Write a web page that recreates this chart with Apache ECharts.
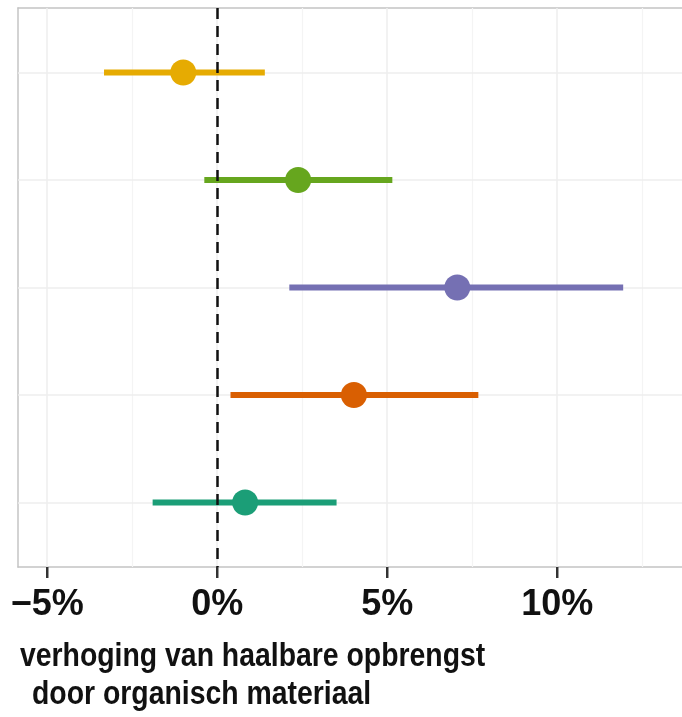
<!DOCTYPE html>
<html>
<head>
<meta charset="utf-8">
<script src="https://cdn.jsdelivr.net/npm/echarts@6/dist/echarts.min.js"></script>
<style>
  html, body { margin: 0; padding: 0; background: #fff; }
  #chart { width: 682px; height: 717px; }
</style>
</head>
<body>
<div id="chart"></div>
<script>
// Rows from top to bottom (row index on the vertical value axis)
const rowIndex = [1, 2, 3, 4, 5];
// Point estimate and interval bounds, in percent
const estimate = [-1.0, 2.38, 7.06, 4.02, 0.82];
const lower    = [-3.33, -0.38, 2.12, 0.39, -1.90];
const upper    = [1.40, 5.15, 11.94, 7.68, 3.51];
const colors   = ['#E6AB02', '#66A61E', '#7570B3', '#D95F02', '#1B9E77'];
// Axis ticks
const majorTicks = [-5, 0, 5, 10];
const minorTicks = [-2.5, 2.5, 7.5, 12.5];
const titleLines = ['verhoging van haalbare opbrengst', 'door organisch materiaal'];

const FONT = '"Liberation Sans", Arial, Helvetica, sans-serif';
const X_MIN = -5.86, X_MAX = 13.67;
const frameLine = { show: true, onZero: false, lineStyle: { color: '#c4c4c4', width: 1.5 } };

const chart = echarts.init(document.getElementById('chart'), null, { renderer: 'canvas' });

const intervalData = rowIndex.map((r, i) => ({
  value: [lower[i], upper[i], r],
  itemStyle: { color: colors[i], opacity: 1 }
}));
const pointData = rowIndex.map((r, i) => ({
  value: [estimate[i], r],
  itemStyle: { color: colors[i], opacity: 1 }
}));

const hiddenParts = {
  axisTick: { show: false },
  axisLabel: { show: false },
  splitLine: { show: false }
};

chart.setOption({
  animation: false,
  // Panel frame on top, left and bottom only; the panel runs to the right edge
  grid: { left: 18, right: 0, top: 8, bottom: 150 },
  xAxis: [
    { type: 'value', position: 'bottom', min: X_MIN, max: X_MAX, axisLine: frameLine, ...hiddenParts },
    { type: 'value', position: 'top', min: X_MIN, max: X_MAX, axisLine: frameLine, ...hiddenParts }
  ],
  yAxis: {
    type: 'value',
    min: 0.4, max: 5.6,
    inverse: true,
    axisLine: frameLine,
    ...hiddenParts
  },
  series: [
    // Grid lines: vertical major/minor and horizontal per row
    {
      type: 'line', data: [], silent: true, z: 1,
      markLine: {
        z: 1,
        silent: true, symbol: 'none', animation: false,
        label: { show: false },
        data: [
          ...minorTicks.map(v => ({ xAxis: v, lineStyle: { color: '#f4f4f4', width: 1.2, type: 'solid' } })),
          ...majorTicks.map(v => ({ xAxis: v, lineStyle: { color: '#eeeeee', width: 1.5, type: 'solid' } })),
          ...rowIndex.map(v => ({ yAxis: v, lineStyle: { color: '#eeeeee', width: 1.5, type: 'solid' } }))
        ]
      }
    },
    // Interval bars
    {
      type: 'custom', z: 10,
      data: intervalData,
      encode: { x: [0, 1], y: 2 },
      renderItem: function (params, api) {
        const a = api.coord([api.value(0), api.value(2)]);
        const b = api.coord([api.value(1), api.value(2)]);
        return {
          type: 'rect',
          shape: { x: a[0], y: a[1] - 3, width: b[0] - a[0], height: 6 },
          style: { fill: colors[params.dataIndex], stroke: null, lineWidth: 0 }
        };
      }
    },
    // Point estimates
    {
      type: 'scatter', z: 11,
      symbol: 'circle', symbolSize: 26,
      data: pointData
    },
    // Reference line at zero
    {
      type: 'line', data: [], silent: true, z: 20,
      markLine: {
        z: 20,
        silent: true, symbol: 'none', animation: false,
        label: { show: false },
        data: [{ xAxis: 0, lineStyle: { color: '#111', width: 2.5, type: [11, 7] } }]
      }
    },
    // Bottom axis ticks and labels
    {
      type: 'scatter', z: 21, silent: true,
      data: majorTicks.map(v => [v, 5.6]),
      symbol: 'rect', symbolSize: [2.5, 11], symbolOffset: [0, 5.5],
      itemStyle: { color: '#333', opacity: 1 },
      label: {
        show: true, position: 'bottom', distance: 9,
        formatter: p => (p.value[0] < 0 ? '\u2212' + Math.abs(p.value[0]) : p.value[0]) + '%',
        fontFamily: FONT, fontWeight: 'bold', fontSize: 36, color: '#111', opacity: 1
      }
    }
  ],
  graphic: [
    {
      type: 'text', left: 20, top: 640, scaleX: 0.86,
      style: { text: titleLines[0], font: 'bold 33px ' + FONT, fill: '#111' }
    },
    {
      type: 'text', left: 32, top: 678, scaleX: 0.86,
      style: { text: titleLines[1], font: 'bold 33px ' + FONT, fill: '#111' }
    }
  ]
});
</script>
</body>
</html>
